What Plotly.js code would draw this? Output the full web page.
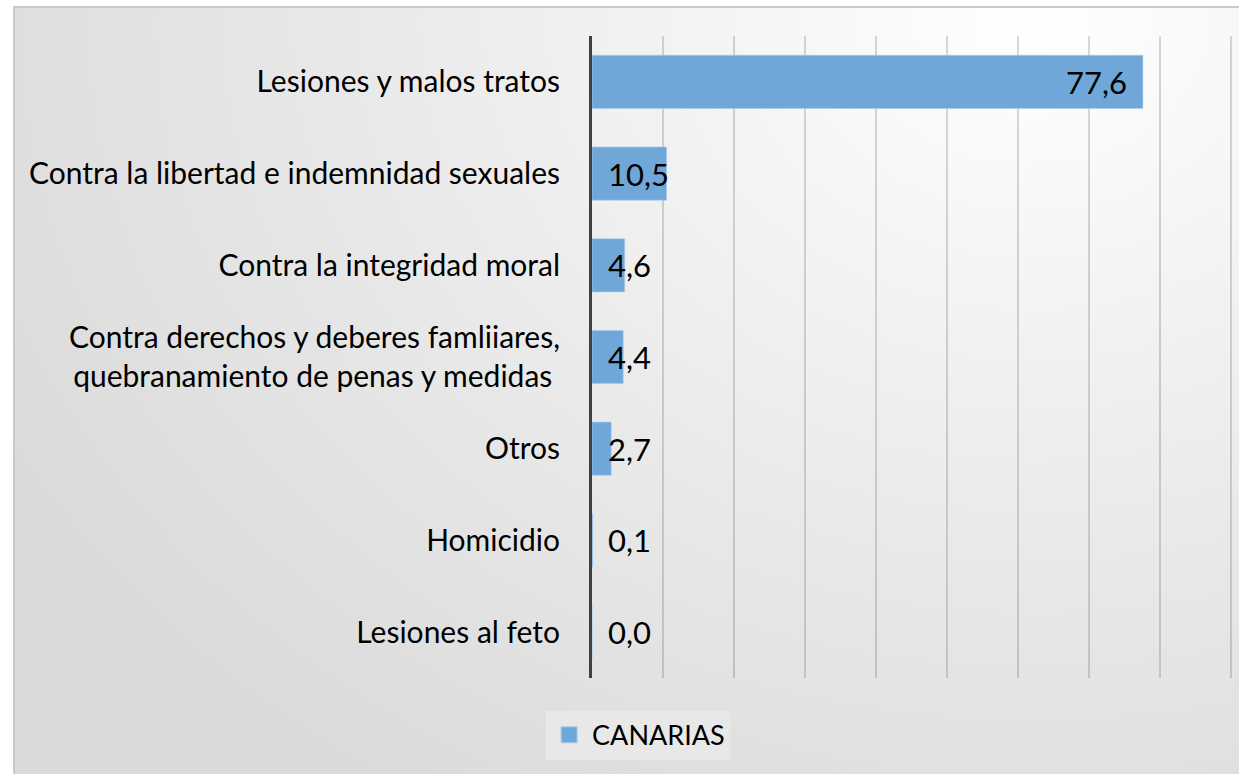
<!DOCTYPE html>
<html>
<head>
<meta charset="utf-8">
<script src="https://cdn.plot.ly/plotly-3.0.1.min.js"></script>
<style>
  html, body { margin: 0; padding: 0; background: #ffffff; }
  #frame {
    position: absolute; left: 13px; top: 6px; width: 1240px; height: 780px;
    border-left: 2px solid #c9c9c9; border-top: 2px solid #c9c9c9;
    background: radial-gradient(ellipse 95% 120% at 82% 2%, #ffffff 0%, #f5f5f5 25%, #e8e8e8 60%, #dadada 100%);
  }
  #chart { position: absolute; left: 0; top: 0; width: 1239px; height: 774px; }
</style>
</head>
<body>
<div id="frame"></div>
<div id="chart"></div>
<script>
const categories = [
  "Lesiones y malos tratos",
  "Contra la libertad e indemnidad sexuales",
  "Contra la integridad moral",
  "Contra derechos y deberes famliiares,<br>quebranamiento de penas y medidas ",
  "Otros",
  "Homicidio",
  "Lesiones al feto"
];
const values = [77.6, 10.5, 4.6, 4.4, 2.7, 0.1, 0.0];
const seriesName = "CANARIAS";
const xTicks = [0, 10, 20, 30, 40, 50, 60, 70, 80, 90];

const fmt = v => v.toFixed(1).replace('.', ',');

const annotations = values.map((v, i) => {
  const big = v > 20;
  return {
    x: big ? v : 0, y: categories[i], xref: 'x', yref: 'y',
    text: fmt(v), showarrow: false,
    xanchor: big ? 'right' : 'left', xshift: big ? -14 : 14,
    font: {family: 'Lato, sans-serif', size: 31, color: '#000000'}
  };
});

const barColor = '#70a7d9';
const barLine = '#a9cbec';

const bars = {
  type: 'bar', orientation: 'h',
  x: values, y: categories, name: seriesName,
  marker: {color: barColor, line: {color: barLine, width: 0.6}},
  hoverinfo: 'none', showlegend: false
};

// legend-only entry (larger square swatch, like the original)
const legendEntry = {
  type: 'scatter', mode: 'markers', x: [null], y: [null], name: seriesName,
  marker: {symbol: 'square', size: 19, color: barColor, line: {color: barLine, width: 1}},
  hoverinfo: 'none', showlegend: true
};

const layout = {
  width: 1239, height: 774,
  margin: {l: 592, r: 7, t: 36, b: 96},
  paper_bgcolor: 'rgba(0,0,0,0)', plot_bgcolor: 'rgba(0,0,0,0)',
  bargap: 0.42,
  font: {family: 'Lato, sans-serif', color: '#000000'},
  xaxis: {
    range: [0, 90.15], tickvals: xTicks, showticklabels: false,
    showgrid: true, gridcolor: 'rgba(0,0,0,0.15)', gridwidth: 2,
    zeroline: false, showline: false, fixedrange: true
  },
  yaxis: {
    autorange: 'reversed', automargin: false,
    tickfont: {family: 'Lato, sans-serif', size: 30, color: '#000000'},
    ticks: '', ticklabelstandoff: 23,
    showline: true, linecolor: '#404040', linewidth: 3,
    showgrid: false, zeroline: false, fixedrange: true
  },
  legend: {
    orientation: 'h', xref: 'container', yref: 'container',
    x: 0.515, xanchor: 'center', y: 0.05, yanchor: 'middle',
    bgcolor: '#e8e8e8', borderwidth: 0,
    font: {family: 'Lato, sans-serif', size: 27, color: '#000000'},
    itemsizing: 'trace', itemwidth: 36
  },
  annotations: annotations
};

Plotly.newPlot('chart', [bars, legendEntry], layout, {displayModeBar: false, staticPlot: true});
</script>
</body>
</html>
